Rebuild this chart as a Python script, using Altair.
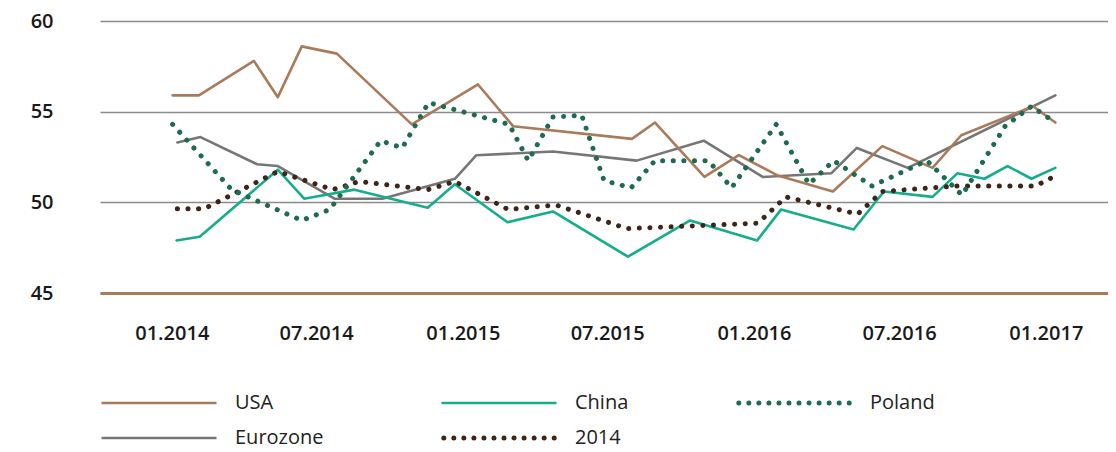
import altair as alt
import pandas as pd

series_names = ["USA", "China", "Poland", "Eurozone", "2014"]
series_colors = ["#a97b5b", "#14ae8c", "#1f6b50", "#767676", "#3d2618"]
series_dotted = [False, False, True, False, True]
series_widths = [2.6, 2.6, 5, 2.6, 5]
dot_dash = [0.1, 10.5]
# legend grid: (column, row) of each entry
legend_cells = [(0, 0), (1, 0), (2, 0), (0, 1), (1, 1)]
legend_col_x = [0, 340, 635]
legend_row_y = [372, 407]

usa_dates = ["2014-01-02", "2014-02-04", "2014-04-14", "2014-05-14", "2014-06-13", "2014-07-27",
             "2014-10-29", "2015-01-20", "2015-03-05", "2015-08-01", "2015-08-30", "2015-10-31",
             "2015-12-13", "2016-01-30", "2016-04-09", "2016-06-10", "2016-08-12", "2016-09-17",
             "2016-12-16", "2017-01-13"]
usa_values = [55.9, 55.9, 57.8, 55.8, 58.6, 58.2, 54.3, 56.5, 54.2, 53.5, 54.4, 51.4,
              52.6, 51.5, 50.6, 53.1, 51.9, 53.7, 55.3, 54.4]

euro_dates = ["2014-01-08", "2014-02-06", "2014-04-18", "2014-05-14", "2014-07-24", "2014-09-22",
              "2014-12-22", "2015-01-18", "2015-04-24", "2015-08-07", "2015-10-30", "2016-01-12",
              "2016-04-07", "2016-05-09", "2016-07-12", "2017-01-13"]
euro_values = [53.3, 53.6, 52.1, 52.0, 50.2, 50.2, 51.3, 52.6, 52.8, 52.3, 53.4, 51.4,
               51.6, 53.0, 51.9, 55.9]

china_dates = ["2014-01-07", "2014-02-05", "2014-05-14", "2014-06-16", "2014-08-18", "2014-11-18",
               "2014-12-22", "2015-02-26", "2015-04-24", "2015-07-27", "2015-10-13", "2016-01-05",
               "2016-02-04", "2016-05-05", "2016-06-12", "2016-08-12", "2016-09-12", "2016-10-16",
               "2016-11-14", "2016-12-14", "2017-01-13"]
china_values = [47.9, 48.1, 51.8, 50.2, 50.7, 49.7, 51.0, 48.9, 49.5, 47.0, 49.0, 47.9,
                49.6, 48.5, 50.6, 50.3, 51.6, 51.3, 52.0, 51.3, 51.9]

poland_dates = ["2014-01-02", "2014-03-17", "2014-06-13", "2014-07-18", "2014-09-20", "2014-10-17",
                "2014-11-19", "2015-02-28", "2015-03-24", "2015-04-24", "2015-05-30", "2015-06-27",
                "2015-07-31", "2015-08-30", "2015-11-05", "2015-12-04", "2016-01-29", "2016-03-10",
                "2016-04-10", "2016-05-28", "2016-08-05", "2016-09-18", "2016-11-11", "2016-12-14",
                "2017-01-13"]
poland_values = [54.3, 50.7, 49.0, 49.6, 53.4, 53.0, 55.5, 54.3, 52.3, 54.7, 54.8, 51.2,
                 50.8, 52.3, 52.3, 50.8, 54.3, 51.0, 52.3, 50.9, 52.3, 50.4, 54.2, 55.3, 54.4]

y2014_dates = ["2014-01-08", "2014-02-11", "2014-05-14", "2014-07-22", "2014-08-24", "2014-11-18",
               "2014-12-22", "2015-02-27", "2015-04-28", "2015-07-26", "2016-01-06", "2016-02-10",
               "2016-05-10", "2016-06-10", "2016-09-12", "2016-12-19", "2017-01-15"]
y2014_values = [49.65, 49.65, 51.7, 50.7, 51.15, 50.7, 51.15, 49.6, 49.85, 48.55, 48.85, 50.3,
                49.35, 50.6, 50.9, 50.9, 51.5]

tick_dates = ["2014-01-01", "2014-07-01", "2015-01-01", "2015-07-01", "2016-01-01",
              "2016-07-01", "2017-01-01"]
x_domain_dates = ["2013-10-03", "2017-03-20"]
y_ticks = [45, 50, 55, 60]

series_data = {
    "USA": (usa_dates, usa_values),
    "China": (china_dates, china_values),
    "Poland": (poland_dates, poland_values),
    "Eurozone": (euro_dates, euro_values),
    "2014": (y2014_dates, y2014_values),
}


def ms(s):
    return int(pd.Timestamp(s, tz="UTC").value // 10**6)


def dots_path(n=12, r=0.02, span=0.96):
    """Legend symbol: a row of small circles in the unit symbol box."""
    parts = []
    step = 2 * span / (n - 1)
    for k in range(n):
        cx = -span + k * step
        parts.append(f"M{cx - r:.4f},0a{r},{r} 0 1,0 {2 * r},0a{r},{r} 0 1,0 {-2 * r},0Z")
    return "".join(parts)


x_enc = alt.X(
    "date:T",
    scale=alt.Scale(type="utc", domain=[ms(x_domain_dates[0]), ms(x_domain_dates[1])]),
    axis=alt.Axis(values=[ms(t) for t in tick_dates],
                  labelExpr="utcFormat(datum.value, '%m.%Y')",
                  title=None, grid=False, ticks=False, tickSize=0,
                  domainColor="#a97b5b", domainWidth=3,
                  labelFont="Open Sans", labelFontSize=20, labelFontWeight=600,
                  labelColor="#1a1a1a", labelBaseline="middle", labelPadding=40),
)
y_enc = alt.Y(
    "value:Q",
    scale=alt.Scale(domain=[45, 60], zero=False, nice=False),
    axis=alt.Axis(values=y_ticks, title=None, grid=True, gridColor="#8c8c8c",
                  gridWidth=1.3, domain=False, ticks=False, tickSize=0,
                  labelFont="Open Sans", labelFontSize=20, labelFontWeight=600,
                  labelColor="#1a1a1a", labelPadding=47),
)

draw_order = ["Eurozone", "USA", "China", "2014", "Poland"]
layers = []
for name in draw_order:
    i = series_names.index(name)
    dates, values = series_data[name]
    df = pd.DataFrame({"date": dates, "value": values, "series": name})
    col, row = legend_cells[i]
    common = dict(
        orient="none", legendX=legend_col_x[col], legendY=legend_row_y[row],
        title=None, symbolSize=13225, clipHeight=20,
        symbolStrokeColor=series_colors[i],
        labelFont="Open Sans", labelFontSize=20, labelColor="#222222",
        labelOffset=17, labelLimit=300,
    )
    if series_dotted[i]:
        legend = alt.Legend(symbolType=dots_path(), symbolStrokeWidth=2.7,
                            symbolFillColor=series_colors[i], **common)
        mark = alt.Chart(df).mark_line(strokeCap="round", strokeJoin="round",
                                       strokeWidth=series_widths[i], strokeDash=dot_dash)
    else:
        legend = alt.Legend(symbolType="stroke", symbolStrokeWidth=series_widths[i], **common)
        mark = alt.Chart(df).mark_line(strokeCap="round", strokeJoin="round",
                                       strokeWidth=series_widths[i])
    layers.append(
        mark.encode(
            x=x_enc, y=y_enc,
            color=alt.Color("series:N", scale=alt.Scale(domain=[name], range=[series_colors[i]]),
                            legend=legend),
        )
    )

chart = alt.layer(*layers).resolve_scale(color="independent").resolve_legend(
    color="independent"
).properties(
    width=1008, height=272,
    padding={"left": 92, "top": 13, "right": 0, "bottom": 159},
    autosize=alt.AutoSizeParams(type="none"),
).configure_view(stroke=None)

chart.save("out.html", embed_options={"renderer": "svg", "actions": False})
